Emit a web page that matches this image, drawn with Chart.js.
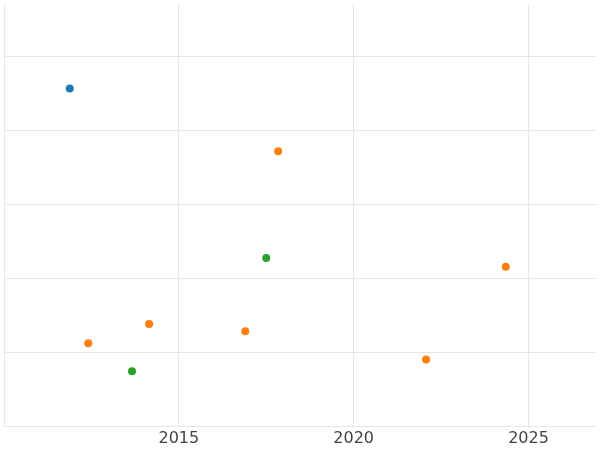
<!DOCTYPE html><html><head><script src="https://cdn.jsdelivr.net/npm/chart.js@4"></script>
<style>body{margin:0}#w{width:600px;height:450px}</style></head><body><div id="w"><canvas id="c"></canvas></div>
<script>
const blueX=[2011.88], blueY=[4.57];
const orangeX=[2017.84,2024.35,2014.15,2016.9,2012.41,2022.07], orangeY=[3.72,2.16,1.39,1.29,1.13,0.91];
const greenX=[2017.5,2013.66], greenY=[2.28,0.75];
const xTicks=[2010,2015,2020,2025], yTicks=[0,1,2,3,4,5];
const pts=(xs,ys)=>xs.map((x,i)=>({x,y:ys[i]}));
new Chart(document.getElementById('c'),{type:'scatter',data:{datasets:[
{data:pts(blueX,blueY),backgroundColor:'#1f77b4',borderColor:'#1f77b4'},
{data:pts(orangeX,orangeY),backgroundColor:'#ff7f0e',borderColor:'#ff7f0e'},
{data:pts(greenX,greenY),backgroundColor:'#2ca02c',borderColor:'#2ca02c'}]},
options:{responsive:true,maintainAspectRatio:false,animation:false,layout:{padding:{left:4,top:0,right:0,bottom:0}},
elements:{point:{radius:4,borderWidth:0}},
plugins:{legend:{display:false},tooltip:{enabled:false}},
scales:{x:{type:'linear',min:2010,max:2026.93,afterBuildTicks:a=>{a.ticks=xTicks.map(v=>({value:v}));},
 ticks:{padding:2,maxRotation:0,color:'#444',font:{size:16,family:'DejaVu Sans'},callback:v=>v===2010?'':v},grid:{color:'#e6e6e6',drawTicks:false},border:{display:false}},
y:{min:0,max:5.71,afterBuildTicks:a=>{a.ticks=yTicks.map(v=>({value:v}));},ticks:{display:false},grid:{color:'#e6e6e6',drawTicks:false},border:{display:false}}}}});
</script></body></html>
